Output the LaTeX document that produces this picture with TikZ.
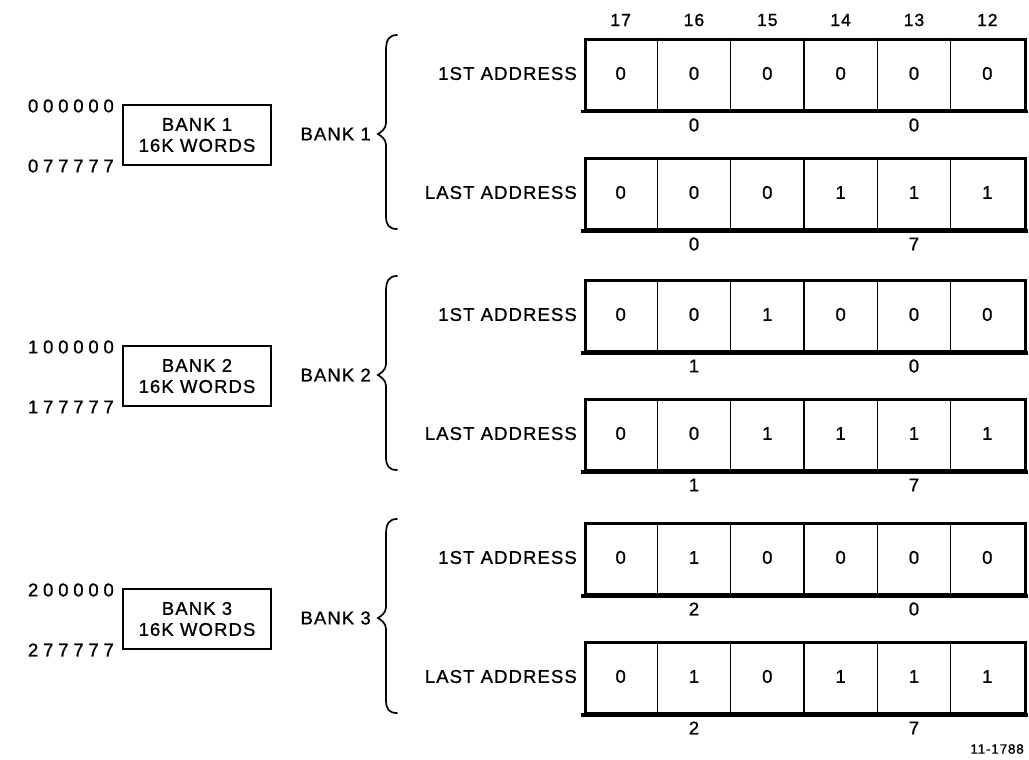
\documentclass[tikz,border=0pt]{standalone}
\usepackage{fontspec}
\setmainfont{Liberation Sans}
\newfontfamily\lr[LetterSpace=6,FakeBold=1]{Liberation Sans}
\newfontfamily\lrw[LetterSpace=26,FakeBold=1]{Liberation Sans}
\newcommand\regrow[5]{%
  \node[rowbox, anchor=north west] (#1) at (584,#2) {};
  \foreach \k in {1,...,5} \draw[divider] ({584+\k*73.33},#2) -- ({584+\k*73.33},{#2+71});
  \draw[bottomline] ([xshift=-3pt]#1.south west) -- ([xshift=1pt]#1.south east);
  \foreach \d [count=\i] in {#3} {
    \node[txt] (#1c\i) at ({584+(\i-0.5)*73.33},{#2+35.5}) {\d};
  }
  \node[txt] (#1ga) at ({584+1.5*73.33},{#2+87}) {#4};
  \node[txt] (#1gb) at ({584+4.5*73.33},{#2+87}) {#5};
}
\newcommand\bankgroup[8]{%
  \regrow{f#1}{#2}{#3}{#5}{#6}
  \regrow{l#1}{#2+119}{#4}{#7}{#8}
  \node[txt, anchor=east] (fl#1) at (577,{#2+35.5}) {1ST ADDRESS};
  \node[txt, anchor=east] (ll#1) at (577,{#2+154.5}) {LAST ADDRESS};
  \draw[bracestyle] (397,{#2-3}) .. controls (389,{#2-3}) and (386,{#2+2}) .. (386,{#2+12})
     -- (386,{#2+85}) .. controls (386,{#2+91}) and (381,{#2+94}) .. (378,{#2+96})
     .. controls (381,{#2+98}) and (386,{#2+101}) .. (386,{#2+107})
     -- (386,{#2+178}) .. controls (386,{#2+187}) and (389,{#2+191}) .. (397,{#2+191});
  \node[txt, anchor=east] (bl#1) at (371,{#2+96}) {BANK #1};
  \node[bankbox] (bb#1) at (197,{#2+97}) {BANK #1\\16K WORDS};
}
\begin{document}
\begin{tikzpicture}[x=1pt,y=-1pt,
  txt/.style={font=\lr\fontsize{18.5}{20}\selectfont, inner sep=0pt},
  addr/.style={font=\lrw\fontsize{18.5}{20}\selectfont, inner sep=0pt, anchor=east},
  rowbox/.style={draw, line width=2.8pt, minimum width=440pt, minimum height=71pt, inner sep=0pt},
  divider/.style={line width=1.4pt},
  bottomline/.style={line width=3.4pt},
  bracestyle/.style={line width=1.7pt, line cap=round},
  bankbox/.style={draw, line width=2.8pt, minimum width=148pt, minimum height=60pt, align=center,
     font=\lr\fontsize{18.5}{21}\selectfont, inner sep=0pt}]
\useasboundingbox (0,0) rectangle (1029,760);
\foreach \h [count=\i] in {17,16,15,14,13,12}
  \node[font=\lr\fontsize{17.5}{18}\selectfont, inner sep=0pt] (hd\i) at ({584+(\i-0.5)*73.33},20) {\h};
\bankgroup{1}{38}{0,0,0,0,0,0}{0,0,0,1,1,1}{0}{0}{0}{7}
\bankgroup{2}{279}{0,0,1,0,0,0}{0,0,1,1,1,1}{1}{0}{1}{7}
\bankgroup{3}{522}{0,1,0,0,0,0}{0,1,0,1,1,1}{2}{0}{2}{7}
\node[addr] (a1s) at (114,{38+97-29}) {000000};
\node[addr] (a1e) at (114,{38+97+31}) {077777};
\node[addr] (a2s) at (114,{279+97-29}) {100000};
\node[addr] (a2e) at (114,{279+97+31}) {177777};
\node[addr] (a3s) at (114,{522+97-29}) {200000};
\node[addr] (a3e) at (114,{522+97+31}) {277777};
\node[font=\lr\fontsize{13.5}{14}\selectfont, inner sep=0pt, anchor=east] (fig) at (1024,749) {11-1788};
\end{tikzpicture}
\end{document}
